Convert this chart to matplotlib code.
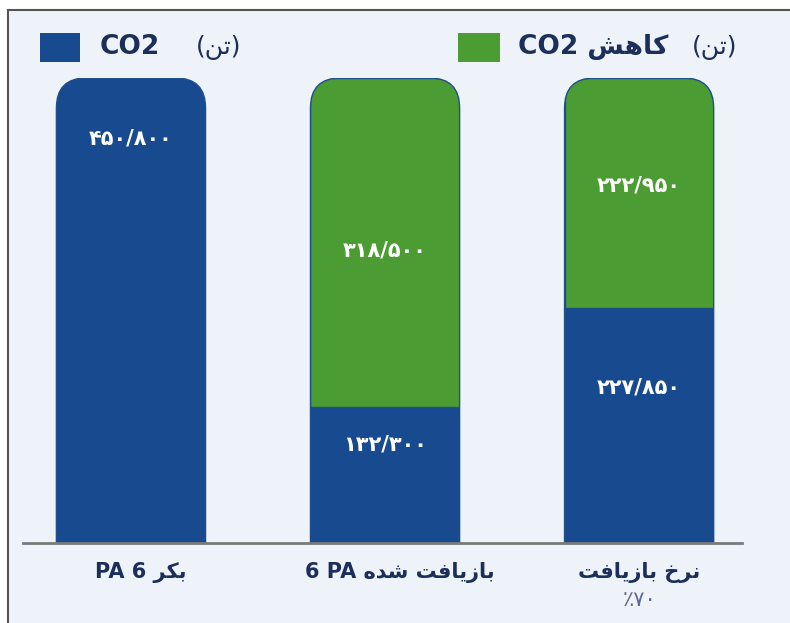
import matplotlib.pyplot as plt
from matplotlib.patches import FancyBboxPatch, Rectangle
import numpy as np

# Persian strings are written in presentation forms, in visual (left-to-right) order
categories = ["PA 6 \uFEAE\uFEDC\uFE91",
              "6 PA \uFEE9\uFEAA\uFEB7 \uFE96\uFED3\uFE8E\uFEF3\uFEAF\uFE8E\uFE91",
              "\uFE96\uFED3\uFE8E\uFEF3\uFEAF\uFE8E\uFE91 \uFEA5\uFEAE\uFEE7"]
sub_labels = ["", "", "\u066A\u06F7\u06F0"]
emitted = [450800, 132300, 227850]        # CO2 (ton)
reduced = [0, 318500, 222950]             # CO2 reduction (ton)
emitted_txt = ["\u06F4\u06F5\u06F0/\u06F8\u06F0\u06F0", "\u06F1\u06F3\u06F2/\u06F3\u06F0\u06F0",
               "\u06F2\u06F2\u06F7/\u06F8\u06F5\u06F0"]
reduced_txt = ["", "\u06F3\u06F1\u06F8/\u06F5\u06F0\u06F0", "\u06F2\u06F2\u06F2/\u06F9\u06F5\u06F0"]
legend_labels = ["CO2", "CO2 \uFEB6\uFEEB\uFE8E\uFEDB"]
unit = "(\uFEE6\uFE97)"

# where the value text sits inside each segment (fraction of the segment)
emit_pos = [0.87, 0.72, 0.66]
red_pos = [0, 0.476, 0.534]
label_shift = [0.04, 0.06, 0.0]

blue = "#174a8e"
green = "#4b9d33"
navy = "#1c2f5a"

plt.rcParams['font.family'] = ['DejaVu Sans']

fig = plt.figure(figsize=(7.9, 6.23), dpi=100)
fig.patch.set_facecolor("white")

# panel background with a grey frame on the left and top
fig.patches.append(Rectangle((8 / 790, 0), 1, 1 - 10 / 623, transform=fig.transFigure,
                             facecolor="#eef3f9", edgecolor="none", zorder=-5))
fig.add_artist(plt.Line2D([8 / 790, 8 / 790], [0, 1 - 10 / 623], color="#555555", lw=1.5,
                          zorder=-4))
fig.add_artist(plt.Line2D([8 / 790, 1], [1 - 10 / 623, 1 - 10 / 623], color="#555555", lw=1.5,
                          zorder=-4))

ax = fig.add_axes([23 / 790, 80 / 623, 719 / 790, 465 / 623])
ax.set_facecolor("none")
x = np.arange(len(categories))
totals = np.array(emitted) + np.array(reduced)
ax.set_xlim(-0.425, 2.405)
ax.set_ylim(0, totals.max())
width = 0.587

b1 = ax.bar(x, emitted, width, color=blue, edgecolor="#1f4e8c", lw=1)
b2 = ax.bar(x, reduced, width, bottom=emitted, color=green, edgecolor="#1f4e8c", lw=1)

# rounded tops: clip each stack with a rounded box
bb = ax.get_window_extent()
xr = ax.get_xlim()[1] - ax.get_xlim()[0]
yr = ax.get_ylim()[1] - ax.get_ylim()[0]
asp = (yr / bb.height) / (xr / bb.width)
r = 30 * xr / bb.width
for i in range(len(x)):
    clip = FancyBboxPatch((x[i] - width / 2, -totals[i]), width, 2 * totals[i],
                          boxstyle=f"round,pad=0,rounding_size={r}", mutation_aspect=asp,
                          transform=ax.transData, facecolor="none", edgecolor="#1f4e8c", lw=1)
    b1[i].set_clip_path(clip)
    b2[i].set_clip_path(clip)
    ax.add_patch(clip)
    clip.set_clip_box(ax.bbox)

for i in range(len(x)):
    ax.text(x[i], emitted[i] * emit_pos[i], emitted_txt[i], ha="center", va="center",
            color="white", fontsize=15, fontweight="bold")
    if reduced[i]:
        ax.text(x[i], emitted[i] + reduced[i] * red_pos[i], reduced_txt[i], ha="center",
                va="center", color="white", fontsize=15, fontweight="bold")

for s in ["top", "right", "left"]:
    ax.spines[s].set_visible(False)
ax.spines["bottom"].set_color("#7a7a7a")
ax.spines["bottom"].set_linewidth(2)
ax.set_yticks([])
ax.set_xticks([])

for i in range(len(x)):
    ax.text(x[i] + label_shift[i], -0.063, categories[i], transform=ax.get_xaxis_transform(),
            ha="center", va="center", color=navy, fontsize=15, fontweight="bold")
    if sub_labels[i]:
        ax.text(x[i], -0.122, sub_labels[i], transform=ax.get_xaxis_transform(),
                ha="center", va="center", color="#5a6b8c", fontsize=15)

# legend row
fig.patches.append(Rectangle((40 / 790, 1 - 62 / 623), 40 / 790, 29 / 623,
                             transform=fig.transFigure, facecolor=blue, edgecolor="none"))
fig.text(100 / 790, 1 - 47 / 623, legend_labels[0], fontsize=19, fontweight="bold",
         color=navy, va="center")
fig.text(196 / 790, 1 - 47 / 623, unit, fontsize=18, color=navy, va="center")
fig.patches.append(Rectangle((458 / 790, 1 - 62 / 623), 42 / 790, 29 / 623,
                             transform=fig.transFigure, facecolor=green, edgecolor="none"))
fig.text(518 / 790, 1 - 47 / 623, legend_labels[1], fontsize=19, fontweight="bold",
         color=navy, va="center")
fig.text(692 / 790, 1 - 47 / 623, unit, fontsize=18, color=navy, va="center")

fig.savefig("out.png", dpi=100)
